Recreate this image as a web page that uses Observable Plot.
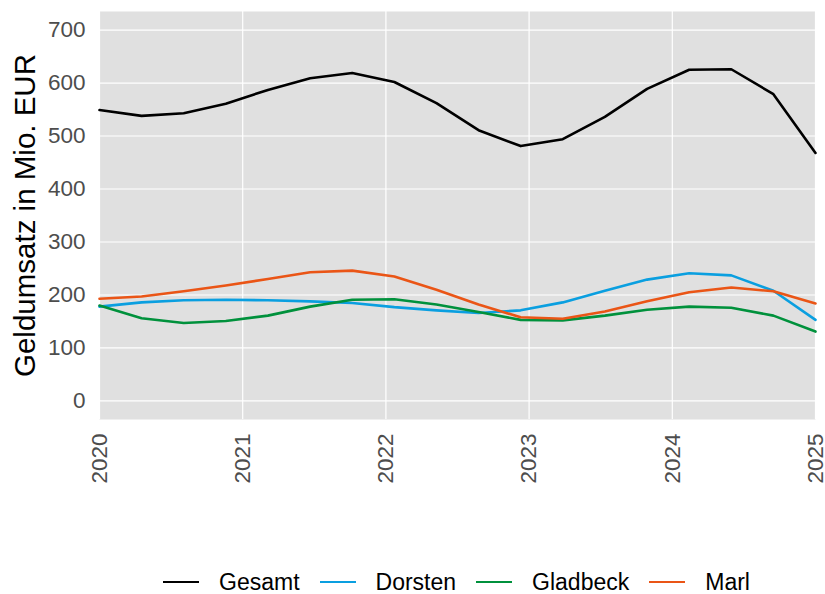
<!DOCTYPE html>
<html>
<head>
<meta charset="utf-8">
<script src="https://cdn.jsdelivr.net/npm/d3@7"></script>
<script src="https://cdn.jsdelivr.net/npm/@observablehq/plot@0.6"></script>
<style>
  html, body { margin: 0; padding: 0; background: white; }
  body { width: 825px; height: 594px; overflow: hidden; font-family: "Liberation Sans", Arial, sans-serif; }
  #legend { display: flex; align-items: center; height: 24px; padding-left: 163px; font-size: 23px; line-height: 24px; color: black; }
  #legend .key { width: 36px; height: 2.6px; margin-right: 20px; }
  #legend .lab { margin-right: 20px; }
</style>
</head>
<body>
<div id="chart"></div>
<div id="legend"></div>
<script>
const years = [2020, 2020.294, 2020.588, 2020.882, 2021.176, 2021.471, 2021.765, 2022.059, 2022.353,
               2022.647, 2022.941, 2023.235, 2023.529, 2023.824, 2024.118, 2024.412, 2024.706, 2025];
const gesamt   = [549, 538, 543, 561, 587, 609, 619, 602, 562, 511, 481, 494, 536, 589, 625, 626, 579, 468];
const dorsten  = [178, 186, 190, 191, 190, 188, 185, 177, 171, 166, 171, 186, 208, 229, 241, 237, 208, 153];
const gladbeck = [180, 156, 147, 151, 161, 178, 191, 192, 182, 168, 153, 152, 161, 172, 178, 176, 161, 131];
const marl     = [193, 197, 207, 218, 230, 243, 246, 235, 210, 182, 158, 155, 169, 188, 205, 214, 207, 184];
const seriesNames = ["Gesamt", "Dorsten", "Gladbeck", "Marl"];
const seriesColors = ["#000000", "#0a9fe0", "#00913c", "#ea5516"];
const xTicks = [2020, 2021, 2022, 2023, 2024, 2025];
const yTicks = [0, 100, 200, 300, 400, 500, 600, 700];
const yTitle = "Geldumsatz in Mio. EUR";

const seriesValues = [gesamt, dorsten, gladbeck, marl];
const data = [];
seriesNames.forEach((name, s) => {
  years.forEach((x, i) => data.push({series: name, x, y: seriesValues[s][i]}));
});

const chart = Plot.plot({
  width: 825,
  height: 570,
  marginLeft: 99,
  marginRight: 10,
  marginTop: 11,
  marginBottom: 151,
  style: {fontFamily: "Liberation Sans, Arial, sans-serif", background: "white", overflow: "visible"},
  x: {domain: [2020, 2025], label: null},
  y: {domain: [-35, 735], label: null},
  color: {domain: seriesNames, range: seriesColors},
  marks: [
    Plot.frame({fill: "#e0e0e0", stroke: "none"}),
    Plot.gridX(xTicks, {stroke: "white", strokeOpacity: 1, strokeWidth: 1.2}),
    Plot.gridY(yTicks, {stroke: "white", strokeOpacity: 1, strokeWidth: 1.2}),
    Plot.axisX(xTicks, {tickRotate: -90, tickSize: 0, tickPadding: 14, fontSize: 22.5, fill: "#4d4d4d",
                        tickFormat: d => String(d), label: null}),
    Plot.axisY(yTicks, {tickSize: 0, tickPadding: 14, fontSize: 22.5, fill: "#4d4d4d", label: null}),
    Plot.text([yTitle], {frameAnchor: "left", textAnchor: "middle", rotate: -90, dx: -74, fontSize: 29.5, fill: "black"}),
    Plot.line(data, {x: "x", y: "y", z: "series", stroke: "series", strokeWidth: 2.6})
  ]
});
document.getElementById("chart").appendChild(chart);

const legend = document.getElementById("legend");
seriesNames.forEach((name, i) => {
  const key = document.createElement("span");
  key.className = "key";
  key.style.background = seriesColors[i];
  legend.appendChild(key);
  const lab = document.createElement("span");
  lab.className = "lab";
  lab.textContent = name;
  legend.appendChild(lab);
});
</script>
</body>
</html>
